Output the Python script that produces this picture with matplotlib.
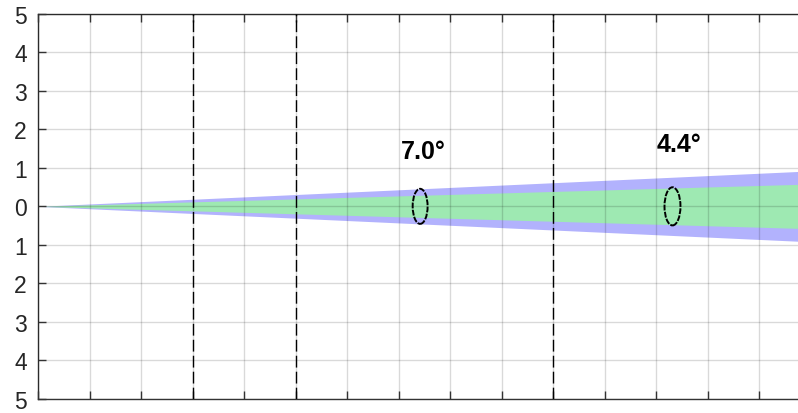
import matplotlib
matplotlib.use("Agg")
import matplotlib.pyplot as plt
from matplotlib.patches import Ellipse

# ---- data ----
distance = [0.0, 15.0]
outer_half_width = [0.0, 0.92]   # blue cone (7.0 deg full angle)
inner_half_width = [0.0, 0.58]   # green cone (4.4 deg full angle)

ellipse_x = [7.42, 12.32]
ellipse_w = [0.29, 0.31]
ellipse_h = [0.91, 0.99]

angle_labels = ["7.0°", "4.4°"]
label_x = [7.48, 12.45]
label_y = [1.44, 1.63]

dashed_x = [3, 5, 10]
ytick_vals = list(range(-5, 6))
ytick_labels = [str(abs(v)) for v in ytick_vals]

plt.rcParams['font.family'] = ['Liberation Sans', 'DejaVu Sans']

fig = plt.figure(figsize=(7.98, 4.14), dpi=100)
ax = fig.add_axes([38/798, 14/414, 772.5/798, 385.3/414])

neg_outer = [-v for v in outer_half_width]
neg_inner = [-v for v in inner_half_width]
ax.fill_between(distance, neg_outer, outer_half_width, color='#b2b2fd',
                linewidth=0, antialiased=False, zorder=1)
ax.fill_between(distance, neg_inner, inner_half_width, color='#9ee9b2',
                linewidth=0, antialiased=False, zorder=1.1)

for xv in dashed_x:
    ax.axvline(xv, color='k', linestyle=(0, (8.5, 3)), linewidth=1.0, zorder=3)

for cx, w, h in zip(ellipse_x, ellipse_w, ellipse_h):
    ax.add_patch(Ellipse((cx, 0), w, h, fill=False, edgecolor='k',
                         linewidth=1.4, linestyle=(0, (3, 0.7)), zorder=4))

for t, x, y in zip(angle_labels, label_x, label_y):
    ax.text(x, y, t, fontsize=18, fontweight='bold', ha='center', va='center',
            zorder=5)

ax.set_xlim(0, 15)
ax.set_ylim(-5, 5)
ax.set_xticks(range(0, 16))
ax.set_xticklabels([])
ax.set_yticks(ytick_vals)
ax.set_yticklabels(ytick_labels)

ax.grid(True, color='k', alpha=0.15, linewidth=1.0, zorder=2)
ax.set_axisbelow(False)

ax.tick_params(axis='both', direction='in', length=6, width=1.0,
               color='#333333', labelsize=16.5, labelcolor='#262626')
ax.tick_params(axis='x', top=True, bottom=True)
ax.tick_params(axis='y', left=True, right=False, pad=8)

for s in ['left', 'top', 'bottom']:
    ax.spines[s].set_color('#333333')
    ax.spines[s].set_linewidth(1.0)
ax.spines['right'].set_visible(False)

fig.savefig("out.png", dpi=100)
